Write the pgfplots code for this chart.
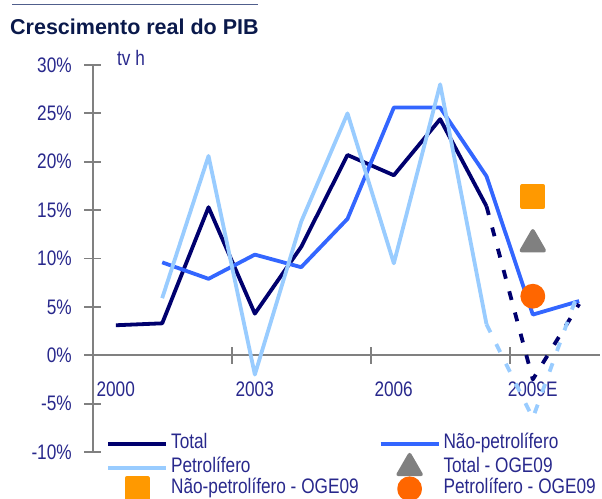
\documentclass[border=0pt]{standalone}
\usepackage{fontspec}
\setmainfont{Liberation Sans}
\newfontfamily\narrowfont[FakeStretch=0.82]{Liberation Sans}
\usepackage{pgfplots}
\pgfplotsset{compat=1.18}

\definecolor{totalc}{RGB}{0,0,110}
\definecolor{naopet}{RGB}{51,102,255}
\definecolor{petro}{RGB}{153,204,255}
\definecolor{sqc}{RGB}{255,153,0}
\definecolor{circc}{RGB}{255,102,0}
\definecolor{tric}{RGB}{128,128,128}
\definecolor{labc}{RGB}{40,40,140}
\definecolor{titlec}{RGB}{10,25,75}
\definecolor{axisc}{RGB}{128,128,128}
\definecolor{rulec}{RGB}{80,95,140}

\begin{document}
\begin{tikzpicture}[x=1pt,y=1pt]
\useasboundingbox (0,0) rectangle (602,498);
\draw[rulec,line width=1.5pt] (12,493.5) -- (258,493.5);
\node[anchor=base west,inner sep=0pt,text=titlec,font=\fontsize{21.5}{25}\selectfont\bfseries] at (10,463) {Crescimento real do PIB};
\node[anchor=base west,inner sep=0pt,text=labc,font=\narrowfont\fontsize{21}{25}\selectfont] at (117,432) {tv h};

\begin{axis}[
  at={(92.7pt,46pt)}, anchor=south west, scale only axis,
  width=507.3pt, height=387pt,
  xmin=1999.5, xmax=2010.45, ymin=-10, ymax=30,
  clip=false,
  axis y line=left, axis x line=middle,
  hide obscured x ticks=false,
  axis line style={-, draw=axisc, line width=1.8pt},
  tick align=center, major tick length=17pt,
  tick style={draw=axisc, line width=1.8pt},
  minor tick num=0,
  xtick={1999.5,2002.5,2005.5,2008.5},
  xticklabels={2000,2003,2006,2009E},
  xticklabel style={xshift=23pt, anchor=north, yshift=-15pt},
  ytick={-10,-5,0,5,10,15,20,25,30},
  yticklabels={-10\%,-5\%,0\%,5\%,10\%,15\%,20\%,25\%,30\%},
  yticklabel style={anchor=east, xshift=-9pt},
  tick label style={font=\narrowfont\fontsize{21}{25}\selectfont, text=labc},
  every axis plot/.append style={line width=3.8pt, line join=round},
  legend columns=2,
  legend cell align=left,
  legend style={draw=none, fill=none, at={(axis cs:1999.79,-8.1)}, anchor=north west,
    inner sep=0pt, row sep=0pt,
    font=\narrowfont\fontsize{21}{25}\selectfont, text=labc,
    nodes={inner ysep=0pt, inner xsep=3pt, text height=15pt, text depth=6pt},
    /tikz/every even column/.append style={column sep=17pt}},
  legend image code/.code={\draw[#1] (0pt,0pt) -- (58pt,0pt);},
  mklegend/.style={legend image code/.code={\path (0pt,0pt) (58pt,0pt); \draw[##1] plot coordinates {(29pt,0pt)};}},
]
% historical series
\addplot[totalc] coordinates {(2000,3.1) (2001,3.3) (2002,15.3) (2003,4.3) (2004,11.2) (2005,20.7) (2006,18.6) (2007,24.4) (2008,15.4)};
\addlegendentry{Total}
\addplot[naopet] coordinates {(2001,9.6) (2002,7.9) (2003,10.4) (2004,9.1) (2005,14.1) (2006,25.6) (2007,25.6) (2008,18.5) (2009,4.2) (2010,5.6)};
\addlegendentry{Não-petrolífero}
\addplot[petro] coordinates {(2001,5.9) (2002,20.6) (2003,-2.0) (2004,13.8) (2005,25.0) (2006,9.5) (2007,28.0) (2008,3.2)};
\addlegendentry{Petrolífero}
% estimates
\addplot[totalc, dash pattern=on 9pt off 13pt, forget plot] coordinates {(2008,15.4) (2009,-2.5) (2010,5.3)};
\addplot[petro, dash pattern=on 9pt off 13pt, forget plot] coordinates {(2008,3.2) (2009,-6.5) (2010,6.8)};
% OGE09
\addplot[only marks, mark=triangle*, mark size=13pt, color=tric, mklegend] coordinates {(2009,11.5)};
\addlegendentry{Total - OGE09}
\addplot[only marks, mark=square*, mark size=10.5pt, color=sqc, mklegend] coordinates {(2009,16.4)};
\addlegendentry{Não-petrolífero - OGE09}
\addplot[only marks, mark=*, mark size=10.5pt, color=circc, mklegend] coordinates {(2009,6.1)};
\addlegendentry{Petrolífero - OGE09}
\end{axis}
\end{tikzpicture}
\end{document}
